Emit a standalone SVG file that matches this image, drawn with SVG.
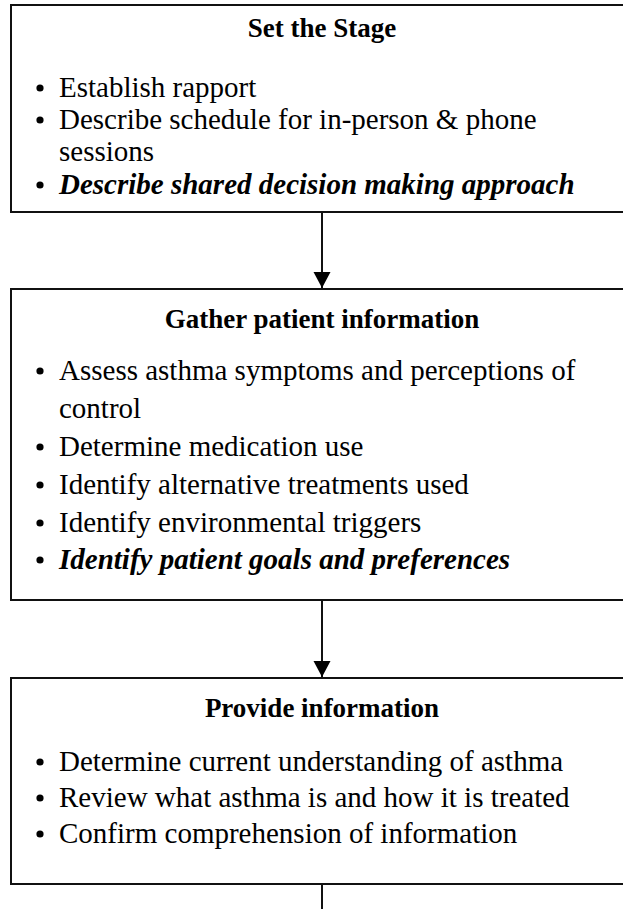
<svg xmlns="http://www.w3.org/2000/svg" width="623" height="909" viewBox="0 0 623 909">
  <style>
    .box { fill: #ffffff; stroke: #111111; stroke-width: 2; }
    .title { font-size: 27px; font-weight: bold; fill: #000; text-anchor: middle; }
    .item { font-size: 29px; fill: #000; }
    .em { font-weight: bold; font-style: italic; }
    .dot { fill: #000; }
    .link { stroke: #111111; stroke-width: 2; fill: none; }
  </style>
  <rect width="623" height="909" fill="#ffffff"/>

  <g id="connectors">
    <line class="link" x1="322" y1="212" x2="322" y2="288"/>
    <path d="M313.5,272 L330.5,272 L322,288 Z" fill="#000"/>
    <line class="link" x1="322" y1="600" x2="322" y2="677"/>
    <path d="M313.5,661 L330.5,661 L322,677 Z" fill="#000"/>
    <line class="link" x1="322" y1="884" x2="322" y2="909"/>
  </g>

  <g font-family="'Liberation Serif', 'Times New Roman', Times, 'DejaVu Serif', serif">
    <g id="set-the-stage">
      <rect class="box" x="11" y="5" width="640" height="207"/>
      <text class="title" x="322" y="37">Set the Stage</text>
      <circle class="dot" cx="40" cy="88" r="3.6"/>
      <text class="item" x="59" y="97">Establish rapport</text>
      <circle class="dot" cx="40" cy="120" r="3.6"/>
      <text class="item" x="59" y="129">Describe schedule for in-person &amp; phone</text>
      <text class="item" x="59" y="161">sessions</text>
      <circle class="dot" cx="40" cy="185" r="3.6"/>
      <text class="item em" x="59" y="194">Describe shared decision making approach</text>
    </g>

    <g id="gather-patient-information">
      <rect class="box" x="11" y="289" width="640" height="311"/>
      <text class="title" x="322" y="328">Gather patient information</text>
      <circle class="dot" cx="40" cy="371" r="3.6"/>
      <text class="item" x="59" y="380">Assess asthma symptoms and perceptions of</text>
      <text class="item" x="59" y="418">control</text>
      <circle class="dot" cx="40" cy="447" r="3.6"/>
      <text class="item" x="59" y="456">Determine medication use</text>
      <circle class="dot" cx="40" cy="485" r="3.6"/>
      <text class="item" x="59" y="494">Identify alternative treatments used</text>
      <circle class="dot" cx="40" cy="523" r="3.6"/>
      <text class="item" x="59" y="532">Identify environmental triggers</text>
      <circle class="dot" cx="40" cy="560" r="3.6"/>
      <text class="item em" x="59" y="569">Identify patient goals and preferences</text>
    </g>

    <g id="provide-information">
      <rect class="box" x="11" y="678" width="640" height="206"/>
      <text class="title" x="322" y="717">Provide information</text>
      <circle class="dot" cx="40" cy="762" r="3.6"/>
      <text class="item" x="59" y="771">Determine current understanding of asthma</text>
      <circle class="dot" cx="40" cy="798" r="3.6"/>
      <text class="item" x="59" y="807">Review what asthma is and how it is treated</text>
      <circle class="dot" cx="40" cy="834" r="3.6"/>
      <text class="item" x="59" y="843">Confirm comprehension of information</text>
    </g>
  </g>
</svg>
